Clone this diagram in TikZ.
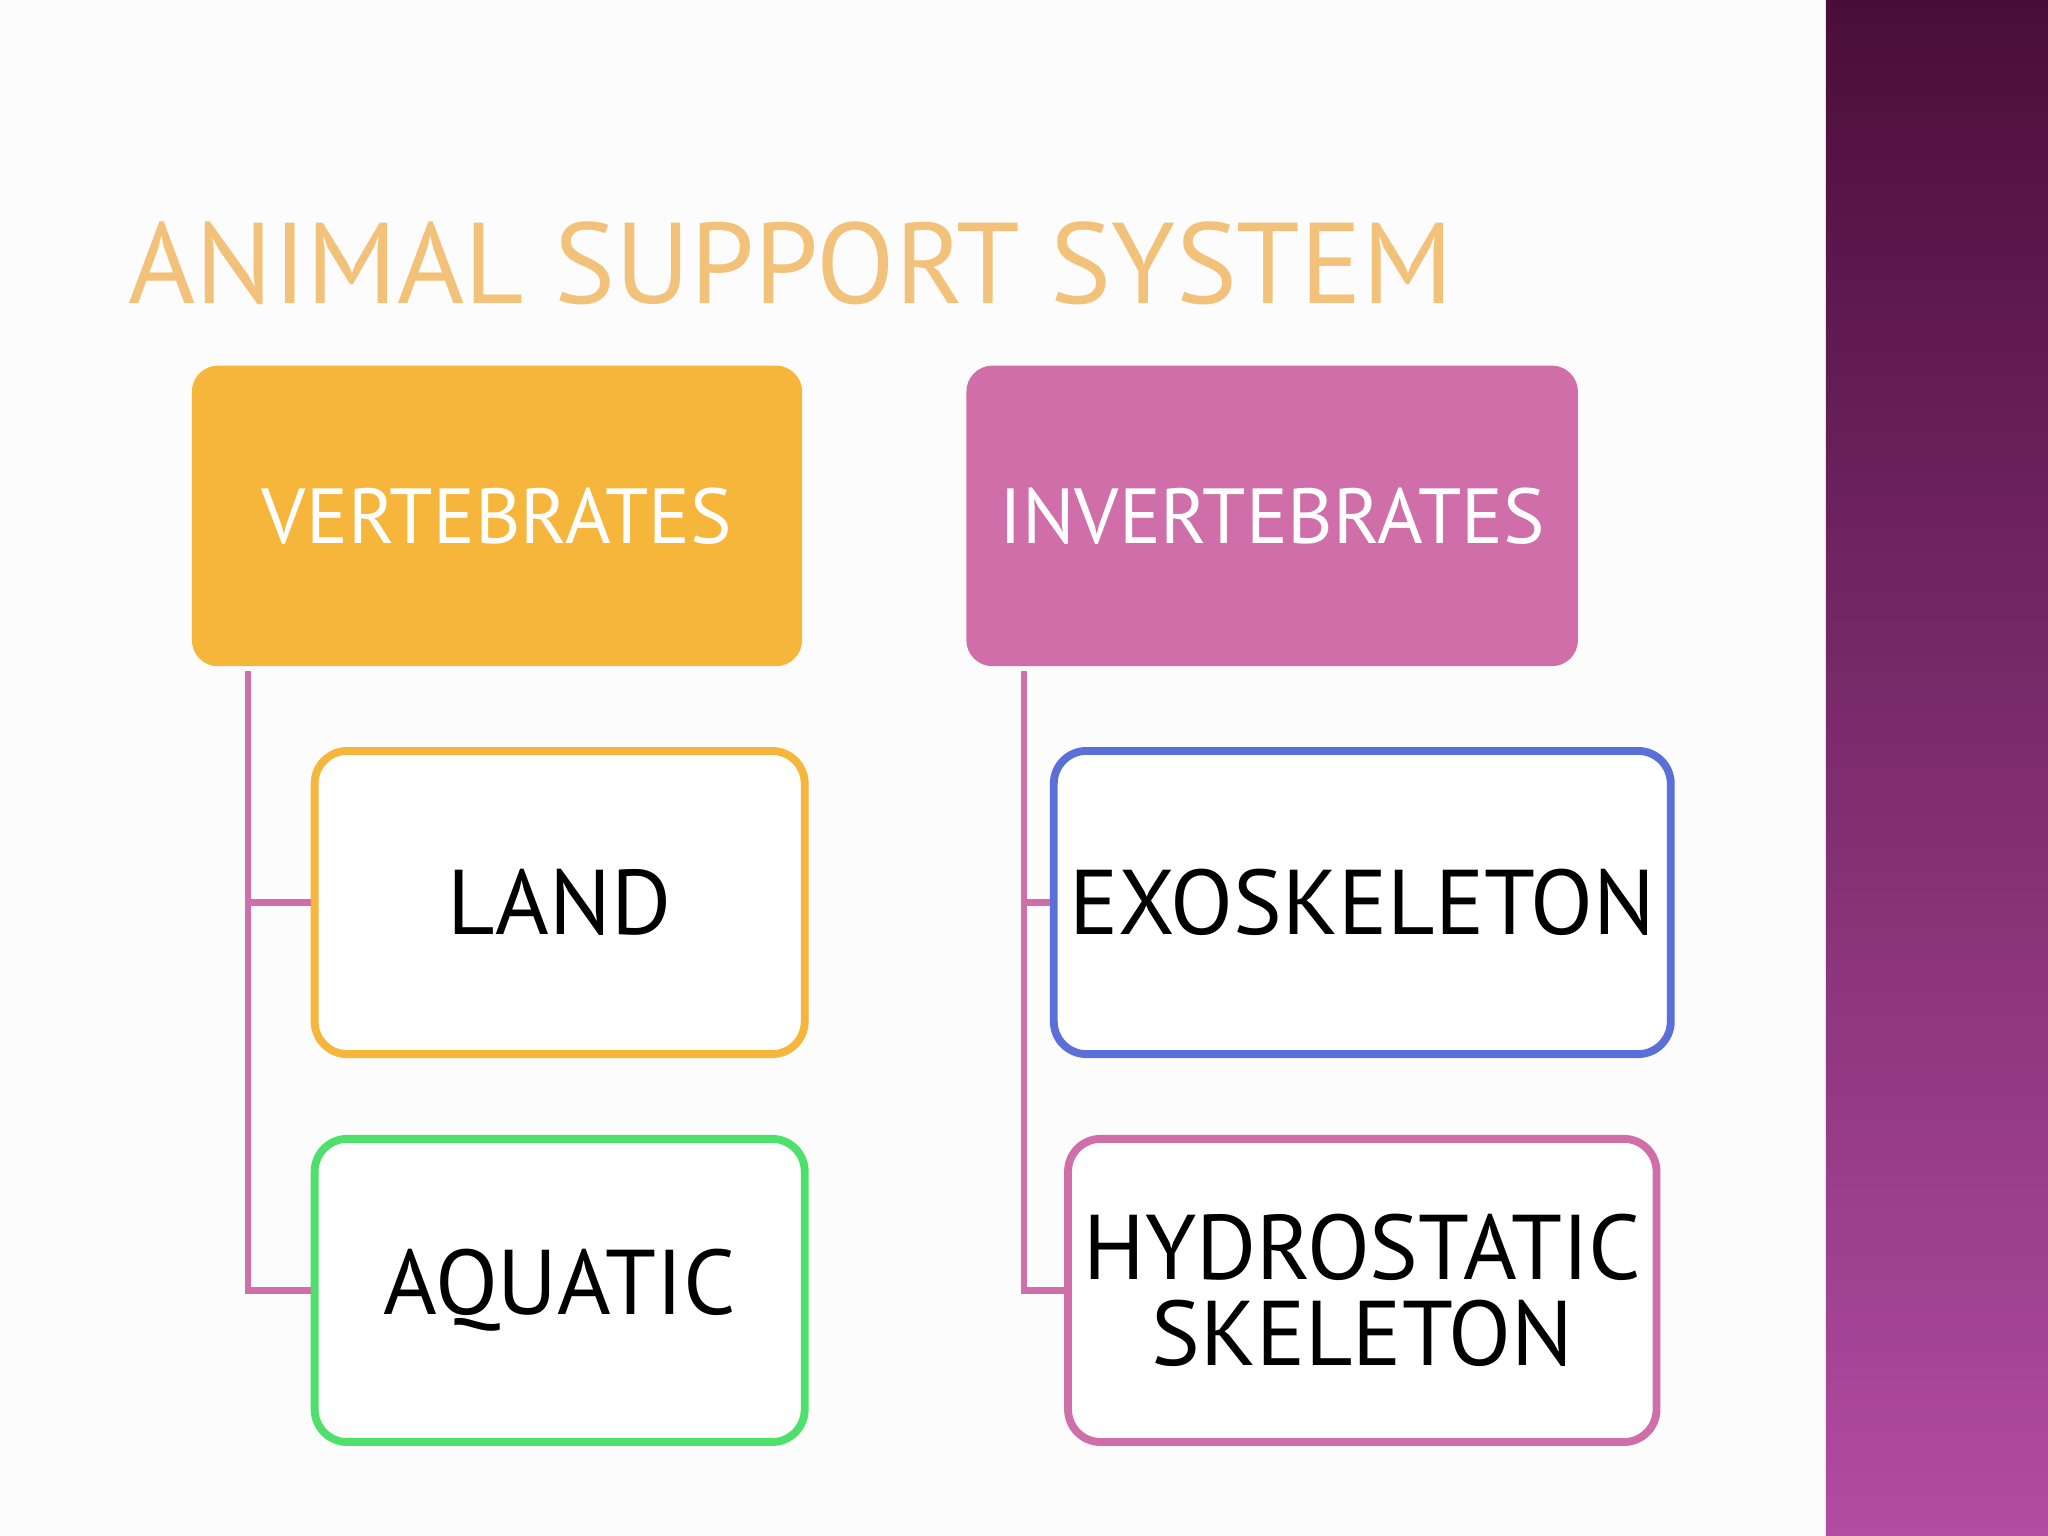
\documentclass[tikz,border=0pt]{standalone}
\usepackage{fontspec}
\setmainfont{PT Sans}
\definecolor{vorange}{HTML}{F6B63B}
\definecolor{vpink}{HTML}{CF6EA8}
\definecolor{vgreen}{HTML}{4DE06A}
\definecolor{vblue}{HTML}{5A6FD8}
\definecolor{vtitle}{HTML}{F3C27A}
\definecolor{ptop}{HTML}{4A0D3A}
\definecolor{pbot}{HTML}{B24CA2}
\begin{document}
\begin{tikzpicture}[x=0.01cm,y=-0.01cm,
  topbox/.style={rounded corners=0.2cm,text=white,font=\fontsize{17}{20}\selectfont},
  subbox/.style={draw,line width=0.06cm,rounded corners=0.25cm,fill=white,font=\fontsize{20}{23}\selectfont,align=center},
  link/.style={draw=vpink,line width=0.05cm}]
\useasboundingbox (0,0) rectangle (1568,1176);
\fill[white!98!gray] (0,0) rectangle (1398,1176);
\shade[top color=ptop,bottom color=pbot] (1398,0) rectangle (1568,1176);
\node[anchor=base west,text=vtitle,font=\fontsize{25}{28}\selectfont] (title) at (86,232) {ANIMAL SUPPORT SYSTEM};
\node[topbox,fill=vorange,minimum width=4.67cm,minimum height=2.3cm] (vert) at (380.5,395) {VERTEBRATES};
\node[topbox,fill=vpink,minimum width=4.68cm,minimum height=2.3cm] (inv) at (974,395) {INVERTEBRATES};
\node[subbox,draw=vorange,minimum width=3.75cm,minimum height=2.32cm] (land) at (428.5,691) {LAND};
\node[subbox,draw=vgreen,minimum width=3.75cm,minimum height=2.32cm] (aqua) at (428.5,988) {AQUATIC};
\node[subbox,draw=vblue,minimum width=4.18cm,minimum height=2.32cm] (exo) at (1043,691) {EXOSKELETON};
\node[subbox,draw=vpink,minimum width=4.18cm,minimum height=2.32cm] (hyd) at (1043,988) {HYDROSTATIC\\[-0.15cm]SKELETON};
\coordinate (vl) at (190,514);
\coordinate (il) at (784,514);
\draw[link] (vl) |- (aqua.west);
\draw[link] (vl |- land.west) -- (land.west);
\draw[link] (il) |- (hyd.west);
\draw[link] (il |- exo.west) -- (exo.west);
\end{tikzpicture}
\end{document}
